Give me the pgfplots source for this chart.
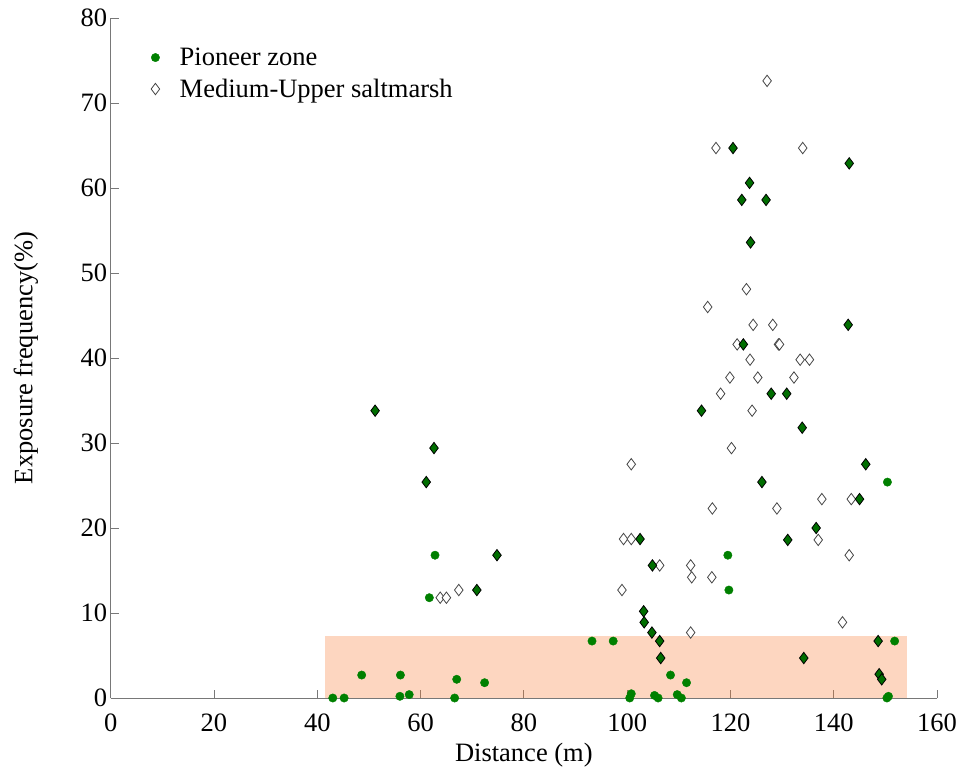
\documentclass[border=0pt]{standalone}
\usepackage{pgfplots}
\pgfplotsset{compat=1.18}
\usepackage{fontspec}
\setmainfont{Liberation Serif}
\definecolor{pgreen}{RGB}{0,128,0}
\definecolor{dgreen}{RGB}{0,110,0}
\definecolor{rectc}{RGB}{250,120,45}
\definecolor{axgray}{RGB}{120,120,120}
\definecolor{dgray}{RGB}{70,70,70}
\begin{document}
\begin{tikzpicture}
\path[use as bounding box] (-110.7pt,-73pt) rectangle (850.3pt,698pt);
\begin{axis}[
  at={(0,0)}, anchor=south west,
  scale only axis, width=826.3pt, height=680pt,
  xmin=0, xmax=160, ymin=0, ymax=80,
  axis lines*=left,
  axis line style={axgray, line width=0.8pt},
  xtick={0,20,...,160}, ytick={0,10,...,80},
  tick style={axgray, line width=0.8pt},
  major tick length=8pt,
  tick align=inside,
  font=\fontsize{26.5}{31}\selectfont,
  /pgf/number format/assume math mode=true,
  xticklabel style={anchor=center, yshift=-25pt},
  yticklabel style={anchor=east, xshift=0pt},
  xlabel={Distance (m)},
  ylabel={Exposure frequency(\%)},
  xlabel style={at={(axis description cs:0.5,-0.0845)}, anchor=center},
  ylabel style={at={(axis description cs:-0.1025,0.5)}, anchor=center},
  legend style={at={(axis description cs:0.0463,0.962)}, anchor=north west, draw=none, fill=none,
    font=\fontsize{26.5}{31}\selectfont, row sep=8pt, inner sep=2pt},
  legend cell align=left,
  clip=false,
]
% Pioneer zone (dots)
\addplot[only marks, mark=*, mark size=4.2pt, mark options={fill=pgreen, draw=pgreen}] coordinates {
(62.8,16.8) (61.7,11.8) (119.5,16.8) (119.7,12.7) (150.4,25.4)
(48.6,2.7) (56.1,2.7) (67.0,2.2) (72.4,1.8) (93.2,6.7) (97.3,6.7) (108.4,2.7) (111.5,1.8) (151.8,6.7)
(43.0,0) (45.2,0) (56.0,0.2) (57.8,0.4) (66.6,0) (100.5,0) (100.8,0.5) (105.3,0.3) (106.0,0)
(109.7,0.4) (110.5,0) (150.3,0) (150.6,0.2)
};
\addlegendentry{\hspace{18pt}Pioneer zone}
% Medium-Upper saltmarsh (open diamonds)
\addplot[only marks, mark=diamond*, mark size=5.7pt, mark options={fill=white, draw=dgray, line width=0.8pt}] coordinates {
(63.8,11.8) (65.0,11.8) (67.4,12.7)
(100.8,27.5) (120.2,29.4) (116.5,22.3) (99.3,18.7) (100.8,18.7) (106.3,15.6) (112.3,15.6)
(112.5,14.2) (116.4,14.2) (99.0,12.7) (112.3,7.7)
(127.1,72.6) (117.2,64.7) (134.0,64.7) (123.1,48.1) (115.6,46.0) (124.4,43.9) (128.2,43.9)
(121.3,41.6) (129.3,41.6) (129.5,41.6) (123.8,39.8) (133.5,39.8) (135.3,39.8) (119.9,37.7)
(125.3,37.7) (132.3,37.7) (118.1,35.8) (124.2,33.8)
(137.7,23.4) (143.4,23.4) (129.0,22.3) (137.0,18.6) (143.0,16.8) (141.7,8.9)
};
\addlegendentry{\hspace{18pt}Medium-Upper saltmarsh}
% Overlapping points (both zones)
\addplot[forget plot, only marks, mark=diamond*, mark size=5.7pt, mark options={fill=dgreen, draw=black, line width=0.8pt}] coordinates {
(51.2,33.8) (62.6,29.4) (61.1,25.4) (74.8,16.8) (70.9,12.7)
(102.5,18.7) (104.9,15.6) (103.2,10.2) (103.3,8.9) (104.8,7.7) (106.3,6.7) (106.5,4.7)
(120.5,64.7) (143.0,62.9) (123.7,60.6) (122.2,58.6) (126.9,58.6) (123.9,53.6) (142.8,43.9)
(122.5,41.6) (127.9,35.8) (130.9,35.8) (114.4,33.8)
(133.9,31.8) (146.2,27.5) (126.1,25.4) (145.0,23.4) (136.6,20.0) (131.1,18.6)
(148.6,6.7) (134.2,4.7) (148.8,2.8) (149.3,2.2)
};
% Shaded band
\addplot[forget plot, draw=none, fill=rectc, fill opacity=0.3] coordinates {
(41.5,0) (154.1,0) (154.1,7.3) (41.5,7.3)
} -- cycle;
\end{axis}
\end{tikzpicture}
\end{document}
